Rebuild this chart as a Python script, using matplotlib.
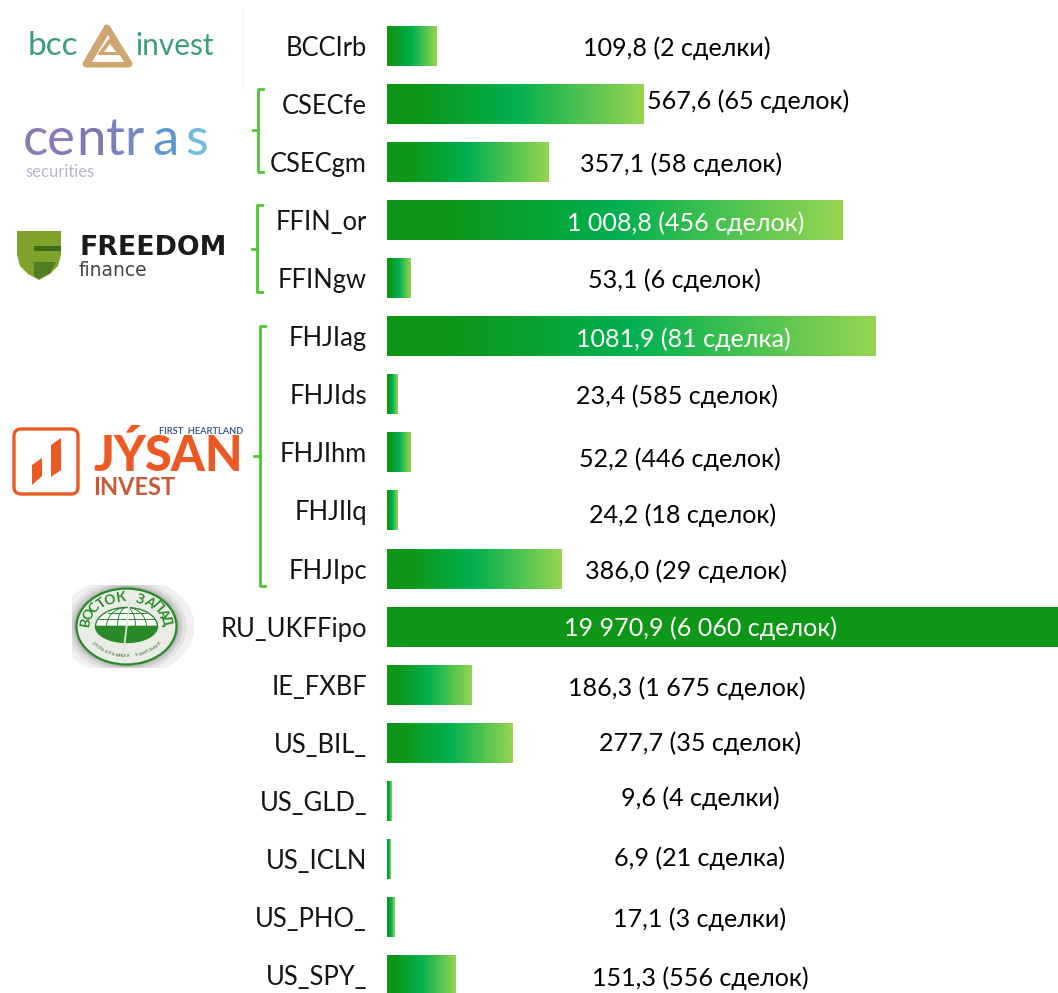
import numpy as np
import matplotlib
matplotlib.use('Agg')
import matplotlib.pyplot as plt
from matplotlib.colors import LinearSegmentedColormap
from matplotlib.patches import Ellipse, FancyBboxPatch, Polygon, Rectangle

plt.rcParams['font.family'] = ['Lato', 'Open Sans', 'DejaVu Sans']

tickers = ['BCCIrb', 'CSECfe', 'CSECgm', 'FFIN_or', 'FFINgw', 'FHJIag', 'FHJIds', 'FHJIhm', 'FHJIlq',
           'FHJIpc', 'RU_UKFFipo', 'IE_FXBF', 'US_BIL_', 'US_GLD_', 'US_ICLN', 'US_PHO_', 'US_SPY_']
volumes = [109.8, 567.6, 357.1, 1008.8, 53.1, 1081.9, 23.4, 52.2, 24.2,
           386.0, 19970.9, 186.3, 277.7, 9.6, 6.9, 17.1, 151.3]
volume_labels = ['109,8', '567,6', '357,1', '1 008,8', '53,1', '1081,9', '23,4', '52,2', '24,2',
                 '386,0', '19 970,9', '186,3', '277,7', '9,6', '6,9', '17,1', '151,3']
deal_labels = ['2 сделки', '65 сделок', '58 сделок', '456 сделок', '6 сделок', '81 сделка', '585 сделок',
               '446 сделок', '18 сделок', '29 сделок', '6 060 сделок', '1 675 сделок', '35 сделок',
               '4 сделки', '21 сделка', '3 сделки', '556 сделок']

# where the labels sit in the picture, pixels
label_centers = [677, 748, 681, 686, 674, 683, 677, 680, 683, 686, 700, 687, 700, 700, 700, 700, 700]
label_ys = [48, 101, 164, 223, 280, 339, 396, 459, 515, 571, 628, 688, 743, 798, 858, 919, 978]
white_labels = [3, 5, 10]

W, H = 1058, 993
X0, ROW, Y0 = 387, 58.06, 46
PX_PER_UNIT = 0.4518

fig = plt.figure(figsize=(W / 100, H / 100), dpi=100, facecolor='white')
ax = fig.add_axes([X0 / W, 0, 1 - X0 / W, 1])
ov = fig.add_axes([0, 0, 1, 1], zorder=-1)
ov.set_xlim(0, W)
ov.set_ylim(H, 0)
ov.axis('off')

cmap = LinearSegmentedColormap.from_list('bar', [(0, '#0E9616'), (0.12, '#0E9616'), (0.5, '#00B050'), (1, '#96D550')])
grad = np.linspace(0, 1, 256).reshape(1, -1)

y = np.arange(len(volumes))
bars = ax.barh(y, volumes, height=40 / ROW, color='none')
for bar in bars:
    im = ax.imshow(grad, cmap=cmap, aspect='auto', interpolation='bilinear',
                   extent=(0, bar.get_width(), bar.get_y() + bar.get_height(), bar.get_y()))
    im.set_clip_path(bar)

ax.set_xlim(0, (W - X0) / PX_PER_UNIT)
ax.set_ylim((H - Y0) / ROW, -Y0 / ROW)
ax.set_yticks(y)
ax.set_yticklabels(tickers, fontsize=18.4, color='#151515')
ax.tick_params(axis='y', length=0, pad=14.4)
ax.set_xticks([])
for s in ax.spines.values():
    s.set_visible(False)
ax.patch.set_alpha(0)

for i in y:
    ax.text((label_centers[i] - X0) / PX_PER_UNIT, (label_ys[i] - Y0) / ROW,
            f'{volume_labels[i]} ({deal_labels[i]})', ha='center', va='center', fontsize=18.1,
            color='white' if i in white_labels else 'black')

# brackets joining tickers of one company
BRACKET = '#4CC832'
for x, top, bot, mid, tip in [(258, 89, 172, 130, 253), (257, 205, 292, 249, 252), (260, 326, 586, 456, 254)]:
    ov.plot([x + 5, x, x, x + 5], [top, top, bot, bot], color=BRACKET, lw=2, solid_joinstyle='round')
    ov.plot([tip, x], [mid, mid], color=BRACKET, lw=2)

# bcc invest logo
BCC = '#3D9C7B'
TAN = '#CFA66F'
ov.text(28, 55, 'bcc', fontsize=24, color=BCC, va='baseline', ha='left')
ov.text(135, 55, 'invest', fontsize=21.5, color=BCC, va='baseline', ha='left')
ov.add_patch(Polygon([(107, 28), (86, 64), (129, 64)], closed=True, fc=TAN, ec=TAN, lw=5, joinstyle='round'))
ov.add_patch(Polygon([(108, 35), (92, 62), (124, 62)], closed=True, fc='white', ec='none'))
ov.add_patch(Polygon([(110, 39), (99, 54), (121, 54)], closed=True, fc=TAN, ec=TAN, lw=1.5, joinstyle='round'))
ov.add_patch(Polygon([(110, 44), (104, 52), (116, 52)], closed=True, fc='white', ec='none'))
ov.plot([242, 242], [8, 88], color='#F4F4F4', lw=1)

# centras logo
for ch, xc, col in zip('centras', [35, 61, 91, 115, 134, 165, 197],
                       ['#8B7BB4', '#8A78B8', '#7D76B8', '#7A80BC', '#7689C2', '#5F97CE', '#72BBDE']):
    ov.text(xc, 155, ch, fontsize=38, color=col, ha='center', va='baseline')
ov.text(25, 172, 'securities', fontsize=12, color='#B9B5D2', ha='left', va='center')

# freedom finance logo
ov.add_patch(Polygon([(17, 231), (61, 231), (61, 255), (58, 266), (50, 274), (39, 280), (28, 274), (20, 266), (17, 255)],
                     closed=True, fc='#7FA32A', ec='none'))
ov.add_patch(Polygon([(34, 246), (61, 246), (61, 251), (34, 251)], closed=True, fc='#3E6B1E', ec='none'))
ov.add_patch(Polygon([(34, 262), (56, 262), (50, 273), (39, 279), (34, 276)], closed=True, fc='#4F7E22', ec='none'))
ov.text(79, 248, 'FREEDOM', fontsize=19.3, fontweight='bold', color='#1B1B1B', family=['DejaVu Sans'], ha='left', va='center')
ov.text(79, 270, 'finance', fontsize=13.5, color='#444444', family=['DejaVu Sans'], ha='left', va='center')

# jysan invest logo
ORANGE = '#EC5A24'
ov.add_patch(FancyBboxPatch((14, 429), 64, 65, boxstyle='round,pad=0,rounding_size=7', fc='none', ec=ORANGE, lw=2.4))
ov.add_patch(Polygon([(32, 465), (42, 458), (42, 476), (32, 485)], closed=True, fc=ORANGE, ec='none'))
ov.add_patch(Polygon([(51, 445), (61, 438), (61, 470), (51, 477)], closed=True, fc=ORANGE, ec='none'))
ov.text(93, 471, 'JÝ', fontsize=35, fontweight=900, color=ORANGE, ha='left', va='baseline')
ov.text(243, 471, 'SAN', fontsize=35, fontweight=900, color=ORANGE, ha='right', va='baseline')
ov.text(93, 495, 'INVEST', fontsize=17, fontweight='bold', color='#C8593A', ha='left', va='baseline')
ov.text(243, 431, 'FIRST  HEARTLAND', fontsize=6.7, fontweight='bold', color='#3D5F8A', ha='right', va='center')

# vostok-zapad logo
cx, cy = 126.5, 626.5
clip = Rectangle((72, 585), 122, 83, transform=ov.transData)
for rx, ry, col in [(68, 50, '#F0F0F0'), (60, 46, '#E2E2E2'), (56, 43, '#CFCFCF'), (53, 40.5, '#B9B9B9')]:
    shadow = ov.add_patch(Ellipse((cx, cy), 2 * rx, 2 * ry, fc=col, ec='none'))
    shadow.set_clip_path(clip)
GR = '#2A8A2A'
ov.add_patch(Ellipse((cx, cy), 100, 76, fc='#E9EDE6', ec=GR, lw=1.6))

t = np.linspace(0, np.pi, 40)
ov.add_patch(Polygon(np.c_[cx + 31 * np.cos(t), cy - 19 * np.sin(t)], closed=True, fc='white', ec=GR, lw=1))
ov.add_patch(Polygon(np.c_[cx + 31 * np.cos(t), cy + 16 * np.sin(t)], closed=True, fc=GR, ec=GR, lw=1))
for rx in [20, 9]:
    ov.plot(cx + rx * np.cos(t), cy - 19 * np.sin(t), color=GR, lw=0.7)
ov.plot([cx - 28, cx + 28], [cy - 8, cy - 8], color=GR, lw=0.7)
ov.plot([cx - 19, cx + 19], [cy - 14, cy - 14], color=GR, lw=0.7)
ov.plot([cx + 3, cx - 3], [cy - 24, cy + 26], color='#DDE6DA', lw=1.3)

for ch, ang in zip('ВОСТОК', [170, 156, 141, 127, 113, 98]):
    r = np.radians(ang)
    ov.text(cx + 41 * np.cos(r), cy - 29 * np.sin(r), ch, fontsize=10, fontweight='bold', color=GR,
            rotation=ang - 90, ha='center', va='center')
for ch, ang in zip('ЗАПАД', [71, 56, 42, 28, 13]):
    r = np.radians(ang)
    ov.text(cx + 41 * np.cos(r), cy - 29 * np.sin(r), ch, fontsize=10, fontweight='bold', color=GR,
            rotation=ang - 90, ha='center', va='center')
lower = 'управляющая компания'
for ch, ang in zip(lower, np.linspace(215, 325, len(lower))):
    r = np.radians(ang)
    ov.text(cx + 40 * np.cos(r), cy - 29 * np.sin(r), ch, fontsize=3.8, color='#3C6B3C',
            rotation=ang - 270, ha='center', va='center')

fig.savefig('out.png', dpi=100, facecolor='white')
